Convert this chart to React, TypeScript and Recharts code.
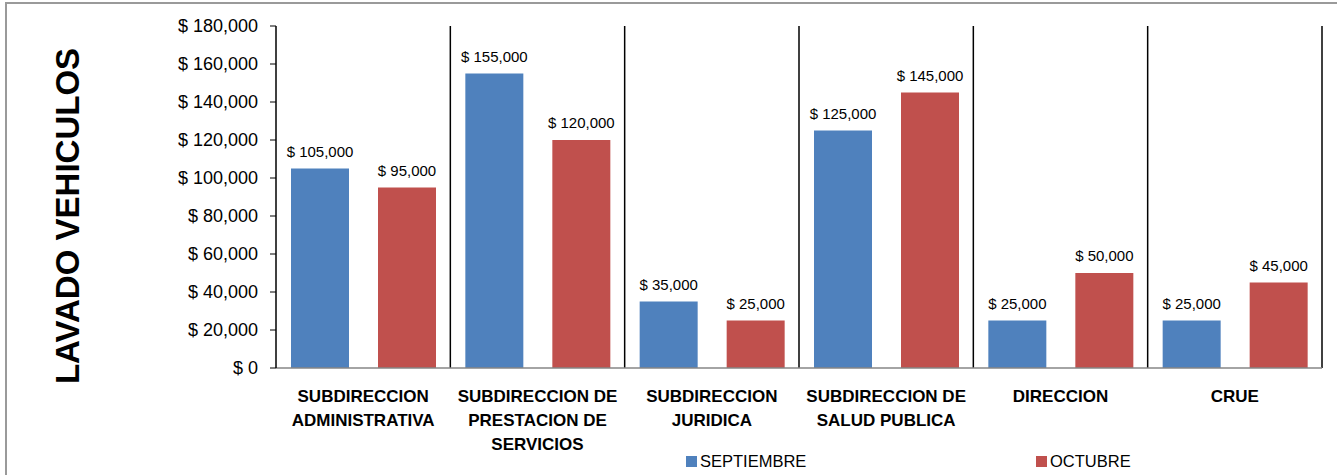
import React from 'react';
import { BarChart, Bar, XAxis, YAxis, CartesianGrid, LabelList, Legend } from 'recharts';

const categories = [
  'SUBDIRECCION\nADMINISTRATIVA',
  'SUBDIRECCION DE\nPRESTACION DE\nSERVICIOS',
  'SUBDIRECCION\nJURIDICA',
  'SUBDIRECCION DE\nSALUD PUBLICA',
  'DIRECCION',
  'CRUE',
];
const septiembre = [105000, 155000, 35000, 125000, 25000, 25000];
const octubre = [95000, 120000, 25000, 145000, 50000, 45000];
const yTicks = [0, 20000, 40000, 60000, 80000, 100000, 120000, 140000, 160000, 180000];
const seriesNames = ['SEPTIEMBRE', 'OCTUBRE'];
const seriesColors = ['#4F81BD', '#C0504D'];
const title = 'LAVADO VEHICULOS';

const data = categories.map((c, i) => ({ cat: c, sep: septiembre[i], oct: octubre[i] }));

const money = (v: number) => (v === 0 ? '$ 0' : '$ ' + v.toLocaleString('en-US'));

const FONT = '"Liberation Sans", Arial, sans-serif';

const CatTick = (props: any) => {
  const { x, y, payload } = props;
  const lines = String(payload.value).split('\n');
  return (
    <text x={x} y={y + 26} textAnchor="middle" fontFamily={FONT} fontWeight="bold" fontSize={17} fill="#000">
      {lines.map((l, i) => (
        <tspan key={i} x={x} dy={i === 0 ? 0 : 24}>{l}</tspan>
      ))}
    </text>
  );
};

const TitleLabel = (props: any) => {
  const vb = props.viewBox || { x: 0, y: 0, width: 0, height: 0 };
  const cx = vb.x + 67;
  const cy = vb.y + vb.height / 2 + 19;
  return (
    <text x={cx} y={cy} transform={`rotate(-90 ${cx} ${cy})`} textAnchor="middle" dominantBaseline="central"
      fontFamily={FONT} fontWeight="bold" fontSize={33} fill="#000">
      {title}
    </text>
  );
};

const ValueLabel = (props: any) => {
  const { x, y, width, value } = props;
  return (
    <text x={Number(x) + Number(width) / 2} y={Number(y) - 12} textAnchor="middle"
      fontFamily={FONT} fontSize={15} fill="#000">
      {money(Number(value))}
    </text>
  );
};

const LegendContent = () => (
  <div style={{ height: 28, display: 'flex', alignItems: 'center', paddingLeft: 686, fontFamily: FONT, fontSize: 16.5, color: '#000' }}>
    {seriesNames.map((n, i) => (
      <div key={n} style={{ width: 350, flexShrink: 0, display: 'flex', alignItems: 'center' }}>
        <span style={{ display: 'inline-block', width: 11, height: 11, background: seriesColors[i], marginRight: 3 }} />
        <span>{n}</span>
      </div>
    ))}
  </div>
);

export default function App() {
  return (
    <div style={{ position: 'absolute', left: 0, top: 0, width: 1337, height: 475, overflow: 'hidden', background: '#fff' }}>
      <div style={{ position: 'absolute', left: 5, top: 2, width: 1400, height: 600, borderLeft: '2px solid #9a9a9a', borderTop: '2px solid #9a9a9a' }} />
      <div style={{ position: 'absolute', left: 0, top: 0 }}>
        <BarChart width={1337} height={475} data={data} margin={{ top: 26, right: 15, bottom: 0, left: 0 }}
          barSize={58} barGap={29}>
          <CartesianGrid horizontal={false} vertical stroke="#000" strokeWidth={1.5}
            verticalCoordinatesGenerator={({ offset }: any) =>
              categories.map((_, i) => offset.left + ((i + 1) * offset.width) / categories.length)} />
          <XAxis dataKey="cat" height={79} interval={0} tickLine={false} axisLine={{ stroke: '#868686', strokeWidth: 1.5 }}
            tick={<CatTick />} />
          <YAxis width={276} domain={[0, 180000]} ticks={yTicks} tickFormatter={money} interval={0}
            axisLine={{ stroke: '#000', strokeWidth: 1.5 }} tickLine={{ stroke: '#000' }} tickSize={6} tickMargin={12}
            tick={{ fontFamily: FONT, fontSize: 18, fill: '#000' }} label={<TitleLabel />} />
          <Legend verticalAlign="bottom" content={<LegendContent />} wrapperStyle={{ padding: 0, margin: 0 }} />
          <Bar dataKey="sep" name={seriesNames[0]} fill={seriesColors[0]} isAnimationActive={false}>
            <LabelList dataKey="sep" content={<ValueLabel />} />
          </Bar>
          <Bar dataKey="oct" name={seriesNames[1]} fill={seriesColors[1]} isAnimationActive={false}>
            <LabelList dataKey="oct" content={<ValueLabel />} />
          </Bar>
        </BarChart>
      </div>
    </div>
  );
}
